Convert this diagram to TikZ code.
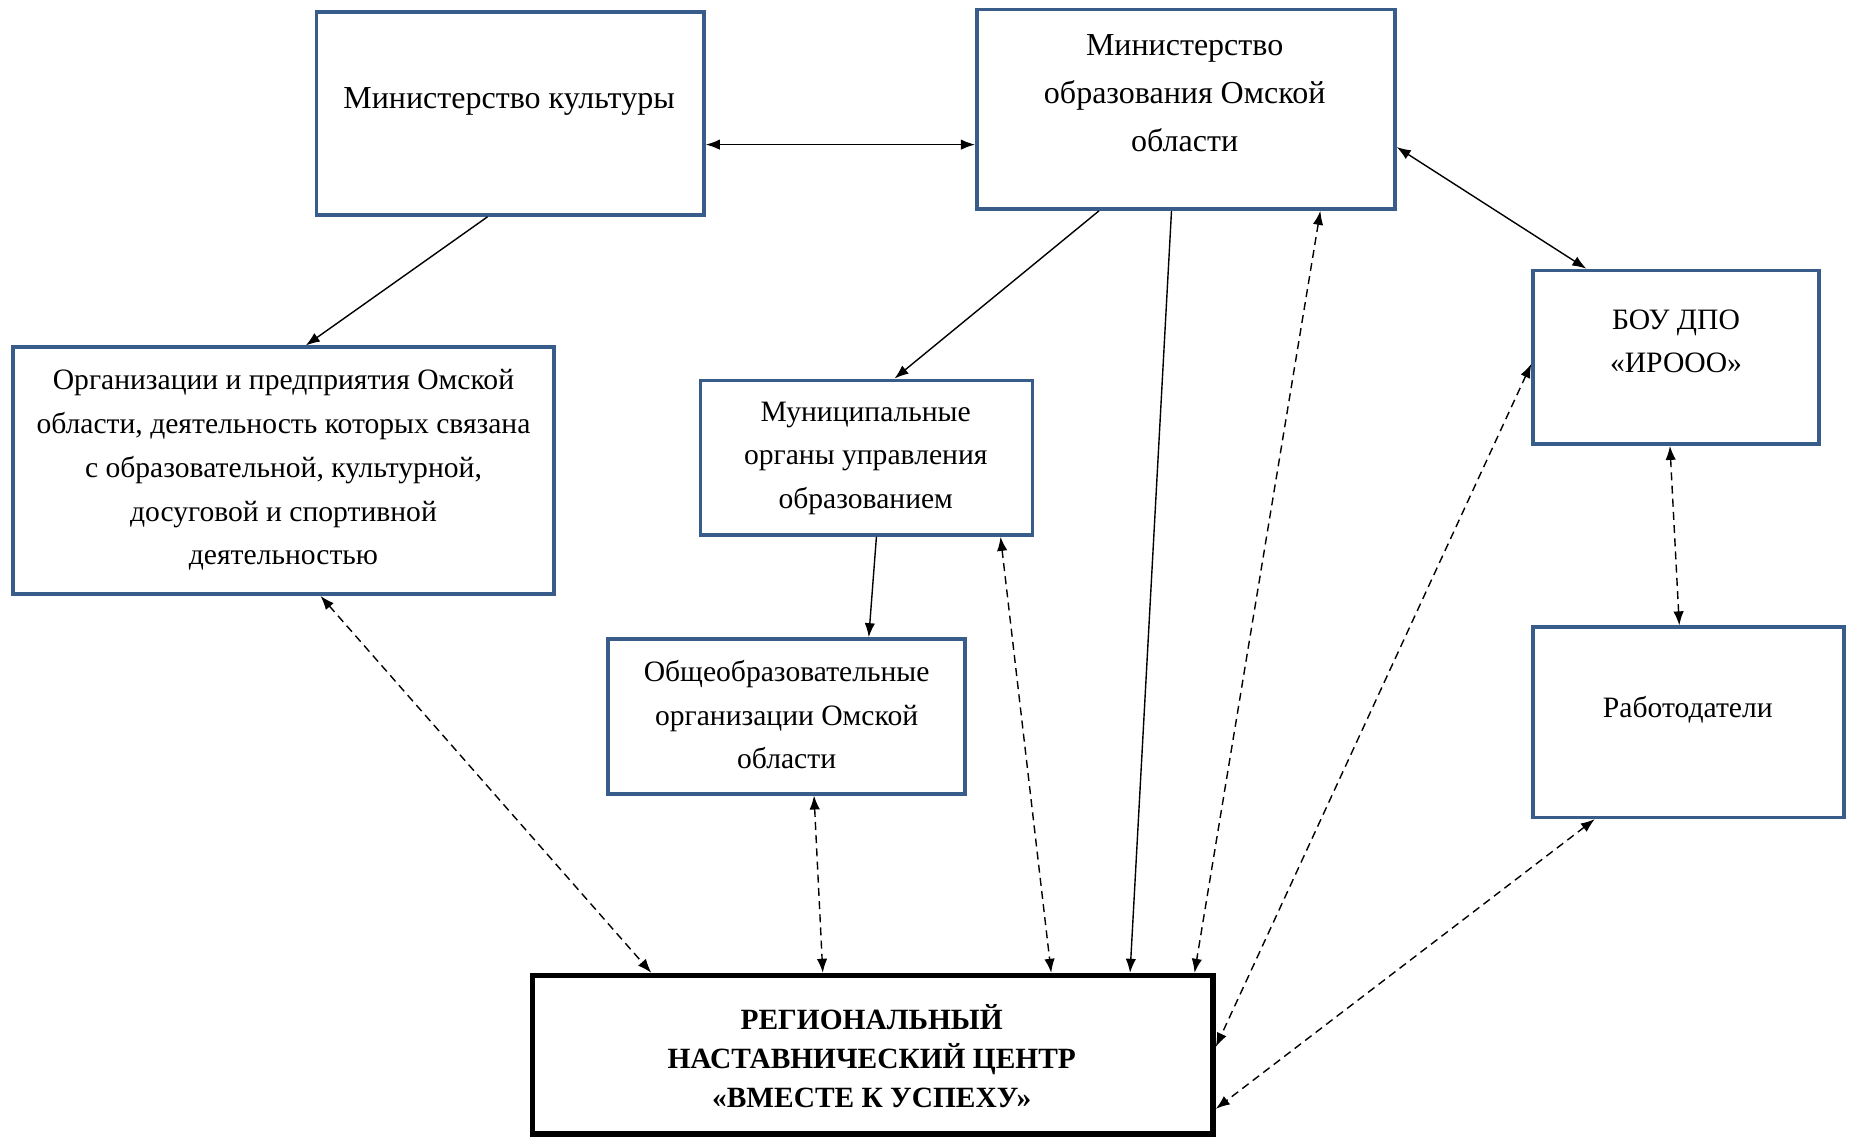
\documentclass[tikz,border=0pt]{standalone}
\usepackage{fontspec}
\setmainfont{Liberation Serif}
\usetikzlibrary{arrows.meta,calc,fit}
\definecolor{boxblue}{HTML}{385D8A}
\tikzset{
  bluebox/.style={draw=boxblue, line width=1.8pt, inner sep=0pt, rectangle},
  mainbox/.style={draw=black, line width=2.8pt, inner sep=0pt, rectangle},
  bigtxt/.style={align=center, inner sep=0pt, font=\fontsize{16}{23.9}\selectfont},
  txt/.style={align=center, inner sep=0pt, font=\fontsize{14.8}{21.9}\selectfont},
  boldtxt/.style={align=center, inner sep=0pt, font=\fontsize{14.7}{19.5}\selectfont\bfseries},
  conn/.style={line width=0.7pt},
  dconn/.style={line width=0.7pt, dash pattern=on 4pt off 2.6pt},
  >={Latex[length=7pt,width=5.2pt]}
}
\begin{document}
\begin{tikzpicture}[x=0.59055pt,y=-0.59055pt]
\useasboundingbox (0,0) rectangle (1568,963);
% boxes
\node[bluebox, fit={(268,10) (596,182)}] (mk) {};
\node[bluebox, fit={(827,8) (1181,177)}] (mo) {};
\node[bluebox, fit={(1298,229) (1540,376)}] (irooo) {};
\node[bluebox, fit={(1298,531) (1561,692)}] (rab) {};
\node[bluebox, fit={(11,294) (469,503)}] (org) {};
\node[bluebox, fit={(593,322) (874,453)}] (mun) {};
\node[bluebox, fit={(515,541) (817,672)}] (obsh) {};
\node[mainbox, fit={(451,826) (1027,960)}] (reg) {};
% texts
\node[bigtxt] (tmk) at (431,86) {Министерство культуры};
\node[bigtxt] (tmo) at (1003,79) {Министерство\\образования Омской\\области};
\node[txt] (tir) at (1419,289) {БОУ ДПО\\«ИРООО»};
\node[txt] (trab) at (1429,601) {Работодатели};
\node[txt] (torg) at (240,398) {Организации и предприятия Омской\\области, деятельность которых связана\\с образовательной, культурной,\\досуговой и спортивной\\деятельностью};
\node[txt] (tmun) at (733,388) {Муниципальные\\органы управления\\образованием};
\node[txt] (tobsh) at (666,605) {Общеобразовательные\\организации Омской\\области};
\node[boldtxt] (treg) at (738,894) {РЕГИОНАЛЬНЫЙ\\НАСТАВНИЧЕСКИЙ ЦЕНТР\\«ВМЕСТЕ К УСПЕХУ»};
% solid connectors
\coordinate (mkE) at ($(mk.north east)!0.651!(mk.south east)$);
\draw[conn,<->] (mkE) -- (mo.west |- mkE);
\draw[conn,->] ($(mk.south west)!0.442!(mk.south east)$) -- ($(org.north west)!0.541!(org.north east)$);
\draw[conn,->] ($(mo.south west)!0.294!(mo.south east)$) -- ($(mun.north west)!0.584!(mun.north east)$);
\draw[conn,->] ($(mo.south west)!0.466!(mo.south east)$) -- ($(reg.north west)!0.875!(reg.north east)$);
\draw[conn,<->] ($(mo.north east)!0.686!(mo.south east)$) -- ($(irooo.north west)!0.19!(irooo.north east)$);
\draw[conn,->] ($(mun.south west)!0.530!(mun.south east)$) -- ($(obsh.north west)!0.728!(obsh.north east)$);
% dashed connectors
\draw[dconn,<->] ($(org.south west)!0.568!(org.south east)$) -- ($(reg.north west)!0.177!(reg.north east)$);
\draw[dconn,<->] ($(obsh.south west)!0.576!(obsh.south east)$) -- ($(reg.north west)!0.427!(reg.north east)$);
\draw[dconn,<->] ($(mun.south west)!0.900!(mun.south east)$) -- ($(reg.north west)!0.760!(reg.north east)$);
\draw[dconn,<->] ($(mo.south west)!0.819!(mo.south east)$) -- ($(reg.north west)!0.969!(reg.north east)$);
\draw[dconn,<->] ($(irooo.north west)!0.537!(irooo.south west)$) -- ($(reg.north east)!0.452!(reg.south east)$);
\draw[dconn,<->] ($(irooo.south west)!0.479!(irooo.south east)$) -- ($(rab.north west)!0.471!(rab.north east)$);
\draw[dconn,<->] ($(rab.south west)!0.202!(rab.south east)$) -- ($(reg.north east)!0.83!(reg.south east)$);
\end{tikzpicture}
\end{document}
